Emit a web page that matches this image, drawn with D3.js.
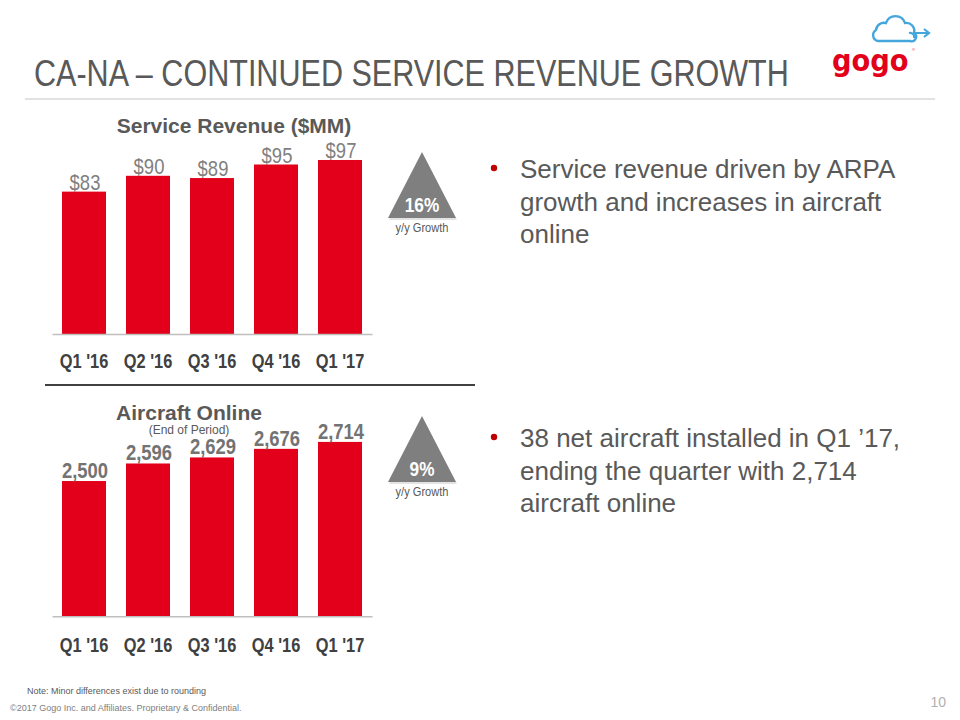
<!DOCTYPE html>
<html>
<head>
<meta charset="utf-8">
<script src="https://cdn.jsdelivr.net/npm/d3@7"></script>
<style>
  html, body { margin: 0; padding: 0; background: #ffffff; }
  svg { display: block; }
</style>
</head>
<body>
<svg id="chart" width="960" height="720"></svg>
<script>
// ---- data ----
const quarters = ["Q1 '16", "Q2 '16", "Q3 '16", "Q4 '16", "Q1 '17"];
const serviceRevenue = [83, 90, 89, 95, 97];
const aircraftOnline = [2500, 2596, 2629, 2676, 2714];
const revenueGrowth = "16%";
const aircraftGrowth = "9%";
const bullets = [
  ["Service revenue driven by ARPA", "growth and increases in aircraft", "online"],
  ["38 net aircraft installed in Q1 \u201917,", "ending the quarter with 2,714", "aircraft online"]
];

const SANS = "'Liberation Sans', Arial, sans-serif";
const SQUEEZE = 0.82; // emulate a condensed face
const RED = "#e2001a";
const GREY = "#595959";

const svg = d3.select("#chart");

// condensed text placed at (x, y)
function narrowText(parent, x, y, str, k) {
  return parent.append("text")
    .attr("transform", `translate(${x},${y}) scale(${k || SQUEEZE},1)`)
    .attr("font-family", SANS)
    .text(str);
}

// ---- header ----
narrowText(svg, 34, 86, "CA-NA \u2013 CONTINUED SERVICE REVENUE GROWTH", 0.826)
  .attr("font-size", 37).attr("fill", GREY);
svg.append("line").attr("x1", 25).attr("x2", 935).attr("y1", 99).attr("y2", 99)
  .attr("stroke", "#d9d9d9").attr("stroke-width", 1.5);

// logo
const logo = svg.append("g");
logo.append("path")
  .attr("d", "M878,41 A6,6 0 0 1 876,30 A8,8 0 0 1 886,23 A10,10 0 0 1 905,23 A8,8 0 0 1 914,33 A4.5,4.5 0 0 1 910,41 Z")
  .attr("fill", "none").attr("stroke", "#45a6dc").attr("stroke-width", 2.4);
logo.append("path").attr("d", "M909,33 A4,4 0 0 1 914,38 M914,33 L929,33 M924,29 L929,33 L924,37")
  .attr("fill", "none").attr("stroke", "#45a6dc").attr("stroke-width", 2.2);
logo.append("text").attr("transform", "translate(832,71) scale(0.88,1)")
  .attr("font-family", "'DejaVu Sans', sans-serif").attr("font-weight", "bold")
  .attr("font-size", 31).attr("fill", RED).text("gogo");
logo.append("text").attr("x", 912).attr("y", 51).attr("font-family", SANS)
  .attr("font-size", 4).attr("fill", RED).text("\u00ae");

// ---- shared x scale ----
const x = d3.scaleBand().domain(quarters).range([52, 372])
  .paddingInner(0.3125).paddingOuter(0.15625);

function drawPanel(opts) {
  const g = svg.append("g");
  const y = opts.y;
  const base = y.range()[0];

  g.selectAll("rect.bar").data(opts.values).join("rect").attr("class", "bar")
    .attr("x", (d, i) => x(quarters[i]))
    .attr("width", x.bandwidth())
    .attr("y", d => y(d))
    .attr("height", d => base - y(d))
    .attr("fill", RED);

  const axis = g.append("g").attr("transform", `translate(0,${base})`)
    .call(d3.axisBottom(x).tickSize(0).tickSizeOuter(0));
  axis.select(".domain").attr("stroke", "#bfbfbf").attr("stroke-width", 1.5);
  axis.selectAll(".tick text")
    .attr("y", 0).attr("dy", 0)
    .attr("transform", `translate(0,${opts.tickOffset}) scale(${SQUEEZE},1)`)
    .attr("font-family", SANS).attr("font-size", 20).attr("font-weight", "bold")
    .attr("fill", "#404040");

  g.selectAll("text.val").data(opts.values).join("text").attr("class", "val")
    .attr("transform", (d, i) =>
      `translate(${x(quarters[i]) + x.bandwidth() / 2 + 1},${y(d) - opts.labelGap}) scale(${SQUEEZE},1)`)
    .attr("text-anchor", "middle")
    .attr("font-family", SANS).attr("font-size", opts.labelSize)
    .attr("font-weight", opts.labelWeight)
    .attr("fill", opts.labelColor)
    .text(opts.fmt);

  // growth triangle
  const tx = opts.triX, ty = opts.triTop, tw = 68, th = 66;
  g.append("path")
    .attr("d", `M${tx},${ty + 2} L${tx + tw / 2 + 1},${ty + th + 2} L${tx - tw / 2 + 1},${ty + th + 2} Z`)
    .attr("fill", "#d0d0d0").attr("opacity", 0.6);
  g.append("path")
    .attr("d", `M${tx},${ty} L${tx + tw / 2},${ty + th} L${tx - tw / 2},${ty + th} Z`)
    .attr("fill", "#7f7f7f");
  narrowText(g, tx, ty + th - 6, opts.growth)
    .attr("text-anchor", "middle").attr("font-weight", "bold").attr("font-size", 21)
    .attr("fill", "#ffffff");
  narrowText(g, tx, ty + th + 14, "y/y Growth")
    .attr("text-anchor", "middle").attr("font-size", 13.5).attr("fill", GREY);
  return g;
}

// ---- top panel: service revenue ----
const yRev = d3.scaleLinear().domain([20, 100]).range([334, 153.2]);
svg.append("text").attr("x", 234).attr("y", 133).attr("text-anchor", "middle")
  .attr("font-family", SANS).attr("font-weight", "bold").attr("font-size", 21)
  .attr("fill", GREY).text("Service Revenue ($MM)");
drawPanel({
  values: serviceRevenue, y: yRev, tickOffset: 34, labelGap: 2,
  labelSize: 22.5, labelWeight: "normal", labelColor: "#808080",
  fmt: d => "$" + d, growth: revenueGrowth, triX: 422, triTop: 152
});

// separator
svg.append("line").attr("x1", 45).attr("x2", 475).attr("y1", 385).attr("y2", 385)
  .attr("stroke", "#404040").attr("stroke-width", 2);

// ---- bottom panel: aircraft online ----
const yAir = d3.scaleLinear().domain([1760, 2760]).range([616.3, 433.5]);
svg.append("text").attr("x", 189).attr("y", 420).attr("text-anchor", "middle")
  .attr("font-family", SANS).attr("font-weight", "bold").attr("font-size", 21)
  .attr("fill", GREY).text("Aircraft Online");
svg.append("text").attr("x", 189).attr("y", 433.5).attr("text-anchor", "middle")
  .attr("font-family", SANS).attr("font-size", 12)
  .attr("fill", GREY).text("(End of Period)");
drawPanel({
  values: aircraftOnline, y: yAir, tickOffset: 36, labelGap: 3,
  labelSize: 22.5, labelWeight: "bold", labelColor: "#737373",
  fmt: d3.format(","), growth: aircraftGrowth, triX: 422, triTop: 416
});

// ---- bullets ----
const bulletTops = [178, 447];
bullets.forEach((lines, bi) => {
  const by = bulletTops[bi];
  svg.append("circle").attr("cx", 494).attr("cy", by - 10).attr("r", 3.2).attr("fill", "#c00000");
  const t = svg.append("text").attr("font-family", SANS).attr("font-size", 26).attr("fill", GREY);
  lines.forEach((ln, i) => {
    t.append("tspan").attr("x", 520).attr("y", by + i * 32.5).text(ln);
  });
});

// ---- footer ----
svg.append("text").attr("x", 27).attr("y", 694).attr("font-family", SANS)
  .attr("font-size", 9).attr("fill", GREY).text("Note: Minor differences exist due to rounding");
svg.append("text").attr("x", 10).attr("y", 711).attr("font-family", SANS)
  .attr("font-size", 9).attr("fill", "#808080")
  .text("\u00a92017 Gogo Inc. and Affiliates. Proprietary & Confidential.");
svg.append("text").attr("x", 946).attr("y", 707).attr("text-anchor", "end")
  .attr("font-family", SANS).attr("font-size", 14).attr("fill", "#b0b0b0").text("10");
</script>
</body>
</html>
